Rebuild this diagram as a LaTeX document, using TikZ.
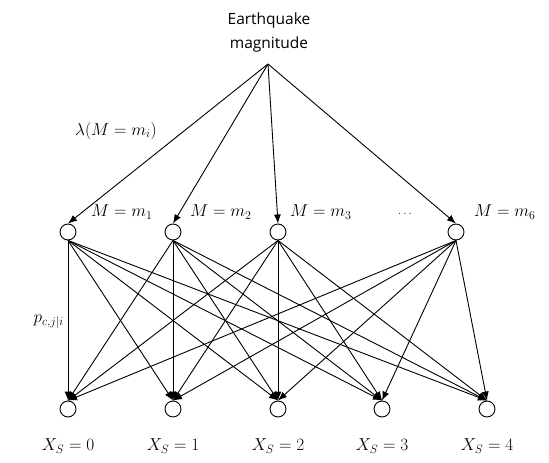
\documentclass[tikz,border=0pt]{standalone}
\usepackage{fontspec}
\newfontfamily\lblfont{Open Sans}
\usetikzlibrary{arrows.meta}
\begin{document}
\begin{tikzpicture}[x=1pt,y=-1pt,
  st/.style={circle,draw,line width=0.9pt,minimum size=16pt,inner sep=0pt},
  edge/.style={line width=0.9pt,-{Latex[length=9pt,width=7pt]}},
  mlab/.style={font=\fontsize{17}{19}\selectfont,inner sep=0pt},
  ]
\useasboundingbox (0,0) rectangle (549,463);
\node[font=\lblfont\fontsize{15.5}{24}\selectfont,align=center,inner sep=0pt] (eq) at (269,32) {Earthquake\\magnitude};
\coordinate (src) at (268,64);
% top row
\node[st] (t1) at (68,232) {};
\node[st] (t2) at (173,232) {};
\node[st] (t3) at (278,232) {};
\node[st] (t4) at (456,232) {};
% bottom row
\node[st] (b0) at (68,409) {};
\node[st] (b1) at (173,409) {};
\node[st] (b2) at (278,409) {};
\node[st] (b3) at (382,409) {};
\node[st] (b4) at (487,409) {};
% top arrows
\foreach \t in {t1,t2,t3,t4}{\draw[edge] (src) -- (\t.north);}
% all edges
\foreach \t in {t1,t2,t3,t4}{
  \foreach \b in {b0,b1,b2,b3,b4}{
    \draw[edge] (\t.south) -- (\b.north);
  }
}
% labels
\node[mlab] (lam) at (116,131) {$\lambda(M=m_i)$};
\node[mlab,anchor=west] (l1) at (91,212) {$M=m_1$};
\node[mlab,anchor=west] (l2) at (190,212) {$M=m_2$};
\node[mlab,anchor=west] (l3) at (290,212) {$M=m_3$};
\node[font=\fontsize{12}{14}\selectfont,inner sep=0pt] (dots) at (405,214) {$\dots$};
\node[mlab,anchor=west] (l6) at (474,212) {$M=m_6$};
\node[mlab,anchor=east] (pc) at (64,322) {$p_{c,j|i}$};
\node[mlab] (x0) at (68,446) {$X_S=0$};
\node[mlab] (x1) at (173,446) {$X_S=1$};
\node[mlab] (x2) at (278,446) {$X_S=2$};
\node[mlab] (x3) at (382,446) {$X_S=3$};
\node[mlab] (x4) at (487,446) {$X_S=4$};
\end{tikzpicture}
\end{document}
